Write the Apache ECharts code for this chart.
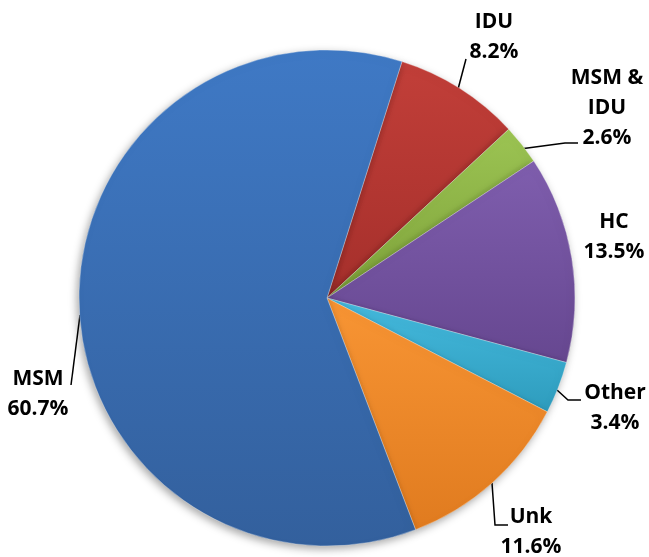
<!DOCTYPE html>
<html>
<head>
<meta charset="utf-8">
<script src="https://cdn.jsdelivr.net/npm/echarts@6/dist/echarts.min.js"></script>
<style>
  html, body { margin: 0; padding: 0; background: #fff; }
  #chart { width: 649px; height: 557px; }
</style>
</head>
<body>
<div id="chart"></div>
<script>
const categories = ["IDU", "MSM &\nIDU", "HC", "Other", "Unk", "MSM"];
const values = [8.2, 2.6, 13.5, 3.4, 11.6, 60.7];

// top / bottom shade per slice
const colorsTop = ["#c23f39", "#9cc453", "#7f5eae", "#45bade", "#f89534", "#3f79c5"];
const colorsBottom = ["#a52f2b", "#7ea23a", "#664790", "#2e9cbd", "#e07b1f", "#33609d"];

// label block centres and leader lines (layout only)
const labelPos = [
  { x: 494, y: 37, line: [[457, 93], [466, 59]] },
  { x: 607, y: 108, line: [[520, 149], [565, 143], [578, 143]] },
  { x: 614, y: 237, line: null },
  { x: 615, y: 408, line: [[557, 390], [568, 400], [581, 400]] },
  { x: 531, y: 532, line: [[492, 483], [495, 525], [508, 525]] },
  { x: 38, y: 394, line: [[80, 315], [71, 385]] }
];

const chart = echarts.init(document.getElementById("chart"));

const data = categories.map((name, i) => ({
  name: name,
  value: values[i],
  itemStyle: {
    color: new echarts.graphic.LinearGradient(0, 0, 0, 1, [
      { offset: 0, color: colorsTop[i] },
      { offset: 1, color: colorsBottom[i] }
    ])
  }
}));

chart.setOption({
  animation: false,
  series: [
    {
      type: "pie",
      center: [327, 298],
      radius: [0, 248],
      startAngle: 72.4,
      clockwise: true,
      avoidLabelOverlap: false,
      data: data,
      itemStyle: {
        borderColor: "rgba(255,255,255,0.3)",
        borderWidth: 1,
        shadowBlur: 8,
        shadowOffsetX: -2,
        shadowOffsetY: 3,
        shadowColor: "rgba(0,0,0,0.35)"
      },
      label: {
        show: true,
        position: "outside",
        formatter: (p) => p.name + "\n" + p.value.toFixed(1) + "%",
        fontFamily: "Open Sans",
        fontWeight: "bold",
        fontSize: 21,
        lineHeight: 30,
        color: "#000",
        align: "center"
      },
      labelLine: {
        show: true,
        lineStyle: { color: "#000", width: 1.5 }
      },
      labelLayout: function (params) {
        const p = labelPos[params.dataIndex];
        const out = {
          x: p.x,
          y: p.y,
          align: "center",
          verticalAlign: "middle"
        };
        out.labelLinePoints = p.line ? p.line : [[p.x, p.y], [p.x, p.y]];
        return out;
      }
    }
  ]
});
</script>
</body>
</html>
